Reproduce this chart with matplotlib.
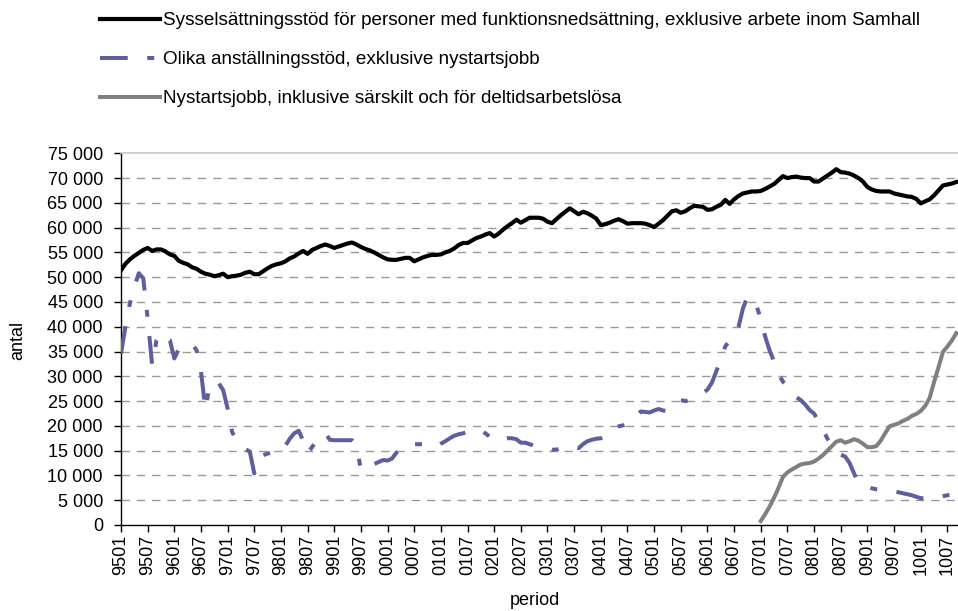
#!/bin/env python

# Antal personer med stöd per månad, 9501-1009
# tre serier: sysselsättningsstöd, anställningsstöd, nystartsjobb

import numpy
import matplotlib
matplotlib.use('Agg')
import matplotlib.pyplot as plt
from matplotlib.ticker import FuncFormatter

font = {'family': 'sans-serif',
        'sans-serif': ['Liberation Sans', 'DejaVu Sans'],
        'size': 13}
matplotlib.rc('font', **font)
matplotlib.rcParams['lines.scale_dashes'] = False

# Perioder (ååmm), en per månad från 9501
periods = ['%02d%02d' % (y % 100, m)
           for y in range(1995, 2011) for m in range(1, 13)][:189]

labels = ['Sysselsättningsstöd för personer med funktionsnedsättning, exklusive arbete inom Samhall',
          'Olika anställningsstöd, exklusive nystartsjobb',
          'Nystartsjobb, inklusive särskilt och för deltidsarbetslösa']

syss = [51400, 52700, 53600, 54300, 54900, 55500, 55900, 55300, 55600, 55600,
        55200, 54600, 54300, 53300, 52900, 52600, 52000, 51700, 51100, 50700,
        50500, 50200, 50400, 50700, 50000, 50200, 50300, 50500, 50900, 51100,
        50600, 50600, 51200, 51800, 52300, 52600, 52800, 53200, 53800, 54200,
        54800, 55300, 54700, 55500, 55900, 56300, 56600, 56300, 55900, 56200,
        56500, 56800, 57000, 56600, 56100, 55700, 55400, 55000, 54500, 54000,
        53600, 53500, 53500, 53700, 53900, 53900, 53200, 53600, 54000, 54300,
        54500, 54500, 54600, 55000, 55300, 55800, 56500, 56900, 56900, 57400,
        57900, 58200, 58600, 58900, 58200, 58800, 59600, 60300, 60900, 61600,
        61000, 61500, 62000, 62000, 62000, 61800, 61200, 60900, 61700, 62500,
        63200, 63900, 63300, 62700, 63200, 62900, 62400, 61800, 60500, 60700,
        61000, 61400, 61700, 61300, 60800, 60900, 60900, 60900, 60800, 60500,
        60100, 60800, 61500, 62400, 63300, 63500, 63000, 63300, 63900, 64400,
        64300, 64200, 63600, 63700, 64200, 64600, 65600, 64800, 65700, 66400,
        66900, 67100, 67300, 67300, 67400, 67800, 68300, 68800, 69600, 70400,
        70000, 70200, 70300, 70100, 70000, 70000, 69300, 69300, 69900, 70500,
        71100, 71800, 71200, 71100, 70900, 70500, 70000, 69300, 68200, 67700,
        67400, 67300, 67300, 67300, 66900, 66700, 66500, 66300, 66200, 65800,
        64900, 65300, 65700, 66500, 67500, 68500, 68700, 68900, 69200]

anst = [34600, 40000, 44700, 48000, 50800, 49800, 41700, 32300, 37300, 38700,
        37800, 37300, 33600, 35500, 35800, 36300, 36500, 35300, 31000, 23300,
        28500, 28800, 28600, 27200, 23500, 18800, 17000, 15800, 15300, 14800,
        10400, 12500, 14100, 14400, 14600, 14700, 14800, 16000, 17400, 18500,
        19000, 17000, 14500, 15700, 17000, 18000, 18500, 17200, 17100, 17100,
        17100, 17100, 17100, 16100, 11100, 11500, 11800, 12300, 12700, 13100,
        13000, 13400, 14600, 15300, 15800, 16300, 16300, 16300, 16300, 16100,
        16100, 15800, 16400, 16900, 17500, 18000, 18300, 18500, 18800, 18800,
        19000, 19200, 18500, 17800, 17100, 17000, 17300, 17500, 17500, 17300,
        16600, 16600, 16300, 16000, 15700, 15500, 15500, 15200, 15200, 15500,
        15800, 15800, 15800, 15500, 16300, 16900, 17200, 17400, 17500, 17900,
        19000, 19600, 19900, 20100, 20300, 21200, 22100, 22900, 22800, 22700,
        23100, 23400, 23100, 23000, 23800, 24500, 25200, 25000, 25200, 25700,
        26200, 26600, 27300, 28700, 31000, 33400, 36000, 37300, 38200, 40000,
        43700, 46100, 45400, 44300, 41700, 38000, 35200, 33000, 30500, 28900,
        28200, 26600, 25800, 25200, 24300, 23200, 22500, 20900, 19300, 17400,
        16000, 14800, 14200, 13800, 12500, 10400, 8400, 8000, 7700, 7400,
        7200, 7100, 7000, 6900, 6800, 6600, 6400, 6200, 6000, 5700,
        5400, 5400, 5500, 5500, 5600, 5800, 6000, 6100, 6100]

# Nystartsjobb finns från 0701
nyst_start = periods.index('0701')
nyst = [800, 2200, 3700, 5500, 7500, 9700, 10600, 11200, 11700, 12200,
        12400, 12500, 12800, 13400, 14100, 15000, 15900, 16800, 17100, 16600,
        16900, 17300, 17000, 16400, 15700, 15700, 15900, 17000, 18500, 19900,
        20200, 20500, 21000, 21400, 22000, 22400, 23000, 24000, 25600, 28800,
        31800, 34900, 36000, 37200, 38700]

x = numpy.arange(len(periods))
x_nyst = numpy.arange(nyst_start, nyst_start + len(nyst))

fig = plt.figure(figsize=(9.58, 6.11), dpi=100, facecolor='white')
ax = fig.add_axes([0.1263, 0.1408, 0.8737, 0.6083])

ax.plot(x, syss, color='black', linewidth=3.0, solid_joinstyle='round',
        label=labels[0], zorder=4)
l2, = ax.plot(x, anst, color='#5f5f9e', linewidth=2.9, label=labels[1],
              dash_capstyle='butt', zorder=3)
l2.set_dashes([20, 14, 5, 14])
ax.plot(x_nyst, nyst, color='#808080', linewidth=2.9, label=labels[2],
        zorder=2)

# Axes
ax.set_xlim(0, 188.4)
ax.set_ylim(0, 75000)
ax.set_yticks(numpy.arange(0, 75001, 5000))
ax.yaxis.set_major_formatter(FuncFormatter(
    lambda v, p: ('%d' % v) if v < 1000 else '%d %03d' % (v // 1000, v % 1000)))
ax.set_xticks(x[::6])
ax.set_xticklabels(periods[::6], rotation=90)
ax.tick_params(axis='both', direction='out', length=5, width=1,
               color='black', labelsize=13)
ax.tick_params(axis='y', pad=8)
ax.tick_params(axis='x', pad=2)

for v in numpy.arange(5000, 75000, 5000):
    ax.axhline(v, color='#999999', linewidth=1, linestyle=(0, (6, 5)),
               zorder=1)

ax.spines['right'].set_visible(False)
ax.spines['top'].set_color('#c8c8c8')
ax.spines['top'].set_linewidth(1.2)
ax.spines['left'].set_linewidth(1)
ax.spines['bottom'].set_linewidth(1)

fig.text(0.0188, 0.4435, 'antal', rotation=90, ha='center', va='center',
         fontsize=13)
fig.text(0.5585, 0.018, 'period', ha='center', va='center', fontsize=13)

fig.legend(loc='upper left', bbox_to_anchor=(0.1044, 0.980),
           frameon=False, borderpad=0, borderaxespad=0, handlelength=3.2,
           handletextpad=0.12, labelspacing=1.15, fontsize=13.6)

fig.savefig('out.png', dpi=100)
